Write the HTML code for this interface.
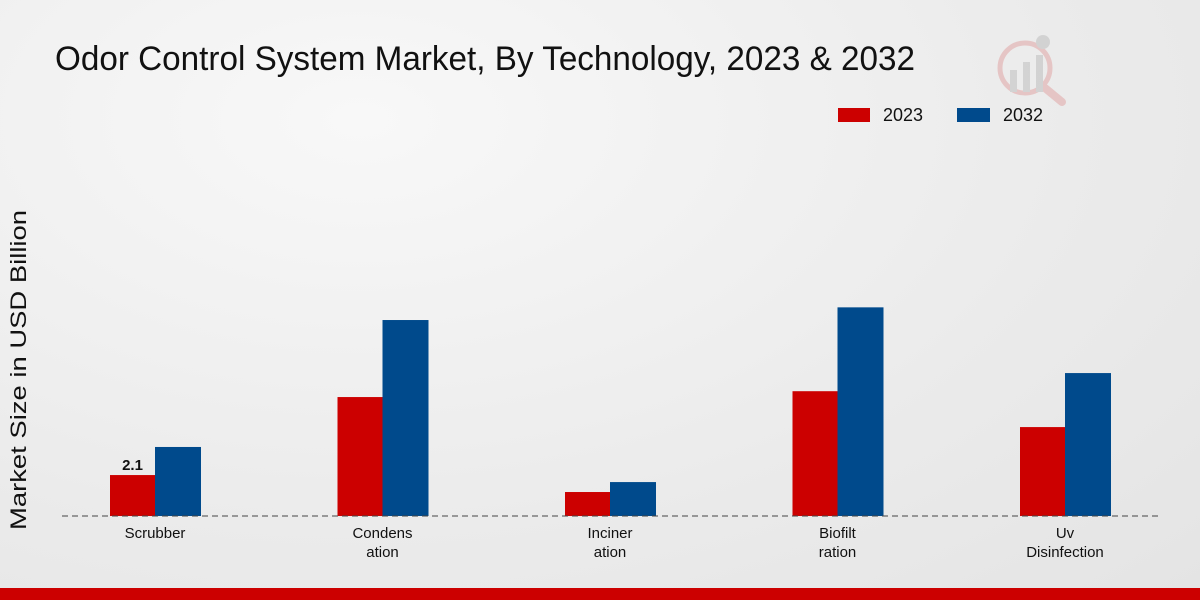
<!DOCTYPE html>
<html><head><meta charset="utf-8"><style>
html,body{margin:0;padding:0;width:1200px;height:600px;overflow:hidden}
body{background:radial-gradient(ellipse at 30% 20%,#f8f8f8 0%,#ebebeb 60%,#e4e4e4 100%);font-family:"Liberation Sans",sans-serif}
</style></head><body>
<svg id="chart" width="1200" height="600" xmlns="http://www.w3.org/2000/svg">
<text x="55" y="70" font-size="34" fill="#111" textLength="860" lengthAdjust="spacingAndGlyphs">Odor Control System Market, By Technology, 2023 &amp; 2032</text>
<g opacity="0.5">
<circle cx="1025" cy="68" r="25" fill="none" stroke="#e0a0a0" stroke-width="5"/>
<line x1="1045" y1="88" x2="1062" y2="102" stroke="#e0a0a0" stroke-width="8" stroke-linecap="round"/>
<rect x="1010" y="70" width="7" height="22" fill="#bbb"/><rect x="1023" y="62" width="7" height="30" fill="#bbb"/><rect x="1036" y="55" width="7" height="37" fill="#bbb"/>
<circle cx="1043" cy="42" r="7" fill="#bbb"/>
</g>
<g>
<rect x="838" y="108" width="32" height="14" fill="#cc0000"/>
<text x="883" y="121" font-size="18" fill="#111" textLength="40" lengthAdjust="spacingAndGlyphs">2023</text>
<rect x="957" y="108" width="33" height="14" fill="#004a8c"/>
<text x="1003" y="121" font-size="18" fill="#111" textLength="40" lengthAdjust="spacingAndGlyphs">2032</text>
</g>
<text transform="translate(26,370) rotate(-90)" text-anchor="middle" font-size="22" fill="#111" textLength="320" lengthAdjust="spacingAndGlyphs">Market Size in USD Billion</text>
<g id="bars"></g>
<line x1="62" y1="516" x2="1160" y2="516" stroke="#444" stroke-dasharray="6,4" stroke-width="1"/>
<g id="xlabels"></g>
<rect x="0" y="588" width="1200" height="12" fill="#cc0000"/>
</svg>
<script>
const categories=[["Scrubber"],["Condens","ation"],["Inciner","ation"],["Biofilt","ration"],["Uv","Disinfection"]];
const values2023=[2.1,6.1,1.23,6.4,4.56];
const values2032=[3.54,10.05,1.74,10.7,7.33];
const ns="http://www.w3.org/2000/svg";
const base=516, scale=19.5, x0=155, step=227.5, bw=45;
const y=v=>base-v*scale;
const xc=i=>x0+i*step;
const gb=document.getElementById('bars'), gl=document.getElementById('xlabels');
function mk(t,a){const e=document.createElementNS(ns,t);for(const k in a)e.setAttribute(k,a[k]);return e;}
categories.forEach((c,i)=>{
  const r1=mk('rect',{x:xc(i)-bw,y:y(values2023[i]),width:bw,height:values2023[i]*scale,fill:'#cc0000'});
  
  
  gb.appendChild(r1);
  const r2=mk('rect',{x:xc(i),y:y(values2032[i]),width:bw+1,height:values2032[i]*scale,fill:'#004a8c'});
  
  
  gb.appendChild(r2);
  const t=mk('text',{x:xc(i),y:538,'text-anchor':'middle','font-size':'15',fill:'#111'});
  
  
  c.forEach((ln,j)=>{const s=mk('tspan',{x:xc(i),dy:j?19:0});s.textContent=ln;t.appendChild(s);});
  gl.appendChild(t);
});
const lab=mk('text',{x:xc(0)-bw/2,y:y(values2023[0])-5,'text-anchor':'middle','font-size':'15','font-weight':'bold',fill:'#111'});


lab.textContent=String(values2023[0]);
gb.appendChild(lab);
</script>
</body></html>
